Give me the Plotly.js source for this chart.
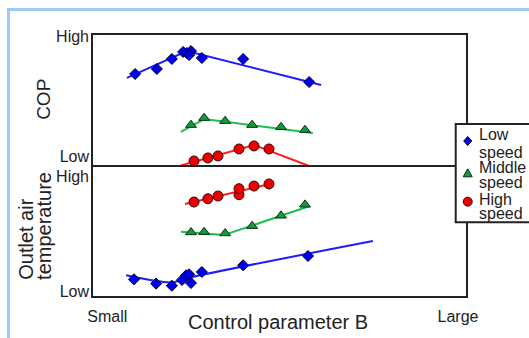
<!DOCTYPE html>
<html><head><meta charset="utf-8">
<script src="https://cdn.plot.ly/plotly-3.0.1.min.js"></script>
<style>
html,body{margin:0;padding:0;background:#fff;}
#chart{width:529px;height:338px;}
#frame{position:absolute;left:7px;top:8px;width:540px;height:350px;border-top:3px solid #9ccbfa;border-left:3px solid #9ccbfa;pointer-events:none;}
</style></head><body>
<div id="chart"></div><div id="frame"></div>
<script>
// Control parameter B (relative scale, 0 = Small edge, 100 = Large edge)
const xTickVals = [4.1, 97.6];
const xTickText = ['Small', 'Large'];
// Relative scales for COP and outlet air temperature
const copTickVals = [7.0, 98.5];
const tempTickVals = [4.6, 91.8];
const yTickText = ['Low', 'High'];

// --- COP (upper panel) ---
const lowCopX = [11.5, 17.3, 21.3, 24.3, 25.3, 26.4, 25.9, 29.3, 40.3, 57.9];
const lowCop  = [69.7, 73.5, 81.1, 86.4, 85.6, 87.1, 84.1, 81.8, 81.1, 63.6];
const lowCopFitX = [9.3, 25.3, 61.1];
const lowCopFit  = [66.7, 87.1, 61.4];

const midCopX = [26.4, 29.9, 35.5, 42.7, 50.4, 56.8];
const midCop  = [31.1, 36.4, 34.1, 31.1, 29.5, 27.3];
const midCopFitX = [23.7, 29.9, 58.9];
const midCopFit  = [25.8, 35.6, 25.0];

const highCopX = [27.2, 30.9, 33.6, 39.2, 43.2, 47.2];
const highCop  = [3.8, 6.1, 7.6, 12.9, 15.2, 12.9];
const highCopFitX = [23.7, 43.2, 57.9];
const highCopFit  = [0.4, 15.9, 0.0];

// --- Outlet air temperature (lower panel) ---
const lowTempX = [11.2, 17.1, 21.3, 24.0, 25.1, 25.9, 26.4, 29.3, 40.3, 57.6];
const lowTemp  = [13.5, 10.2, 8.6, 13.0, 16.6, 17.3, 10.7, 19.1, 24.2, 31.3];
const lowTempFitX = [9.1, 15.5, 21.3, 26.1, 74.9];
const lowTempFit  = [16.6, 13.0, 11.1, 14.9, 42.7];

const midTempX = [26.4, 29.9, 35.5, 42.7, 50.4, 56.8];
const midTemp  = [49.4, 49.6, 48.6, 54.2, 62.1, 70.5];
const midTempFitX = [23.7, 35.2, 58.1];
const midTempFit  = [49.8, 47.3, 69.5];

const highTempX = [27.2, 30.9, 33.6, 39.2, 39.2, 43.2, 47.2];
const highTemp  = [72.5, 75.0, 77.1, 78.1, 82.7, 84.7, 86.3];
const highTempFitX = [24.8, 48.2];
const highTempFit  = [71.0, 86.8];

const legendNames = [['Low', 'speed'], ['Middle', 'speed'], ['High', 'speed']];

const C = {
  low:  {line: '#1c1cff', fill: '#0000ee', edge: '#00002a', sym: 'diamond', size: 8.5},
  mid:  {line: '#1fbd50', fill: '#139a3f', edge: '#06300f', sym: 'triangle-up', size: 9.5},
  high: {line: '#ff1c1c', fill: '#ee0000', edge: '#3a0a0a', sym: 'circle', size: 10}
};

function fit(x, y, c, ya, shape) {
  return {x: x, y: y, yaxis: ya, mode: 'lines', type: 'scatter', hoverinfo: 'skip',
    line: {color: c.line, width: 2, shape: shape || 'linear', smoothing: 0.8}, cliponaxis: false};
}
function pts(x, y, c, ya) {
  return {x: x, y: y, yaxis: ya, mode: 'markers', type: 'scatter', cliponaxis: false,
    marker: {symbol: c.sym, size: c.size, color: c.fill, line: {color: c.edge, width: 1}}};
}

const data = [
  fit(lowCopFitX, lowCopFit, C.low, 'y2'),
  fit(midCopFitX, midCopFit, C.mid, 'y2'),
  fit(highCopFitX, highCopFit, C.high, 'y2'),
  fit(lowTempFitX, lowTempFit, C.low, 'y', 'spline'),
  fit(midTempFitX, midTempFit, C.mid, 'y'),
  fit(highTempFitX, highTempFit, C.high, 'y'),
  pts(lowCopX, lowCop, C.low, 'y2'),
  pts(midCopX, midCop, C.mid, 'y2'),
  pts(highCopX, highCop, C.high, 'y2'),
  pts(lowTempX, lowTemp, C.low, 'y'),
  pts(midTempX, midTemp, C.mid, 'y'),
  pts(highTempX, highTemp, C.high, 'y')
];

const split = 131 / 263;
const frameColor = '#222';
const axBase = {showgrid: false, zeroline: false, showline: false, ticks: '', fixedrange: true};

const shapes = [
  {type: 'rect', xref: 'paper', yref: 'paper', x0: 0, x1: 1, y0: 0, y1: 1, line: {color: frameColor, width: 2}, layer: 'above'},
  {type: 'line', xref: 'paper', yref: 'paper', x0: 0, x1: 1, y0: split, y1: split, line: {color: frameColor, width: 2}, layer: 'above'},
  // legend box
  {type: 'rect', xref: 'paper', yref: 'paper', x0: 0.9699, x1: 1.25, y0: 0.284, y1: 0.6578,
    fillcolor: '#fff', line: {color: frameColor, width: 2}, layer: 'above'},
  // legend keys
  {type: 'path', xref: 'paper', yref: 'paper', xsizemode: 'pixel', ysizemode: 'pixel',
    xanchor: 1.0019, yanchor: 0.5932, path: 'M0,4.5L4,0L0,-4.5L-4,0Z',
    fillcolor: C.low.fill, line: {color: C.low.edge, width: 1}, layer: 'above'},
  {type: 'path', xref: 'paper', yref: 'paper', xsizemode: 'pixel', ysizemode: 'pixel',
    xanchor: 1.0019, yanchor: 0.4703, path: 'M-4.5,-3.5L4.5,-3.5L0,4.5Z',
    fillcolor: C.mid.fill, line: {color: C.mid.edge, width: 1}, layer: 'above'},
  {type: 'circle', xref: 'paper', yref: 'paper', xsizemode: 'pixel', ysizemode: 'pixel',
    xanchor: 1.0019, yanchor: 0.3624, x0: -4.5, x1: 4.5, y0: -4.5, y1: 4.5,
    fillcolor: C.high.fill, line: {color: C.high.edge, width: 1}, layer: 'above'}
];

const legendY = [0.616, 0.5502, 0.4905, 0.4335, 0.3726, 0.3156];
const annotations = [];
legendNames.flat().forEach((t, i) => annotations.push({
  text: t, xref: 'paper', yref: 'paper', x: 1.0275, y: legendY[i], xanchor: 'left', yanchor: 'middle',
  showarrow: false, font: {size: 16}
}));
annotations.push(
  {text: 'COP', xref: 'paper', yref: 'paper', x: -0.1283, y: 0.7529, textangle: -90,
    xanchor: 'center', yanchor: 'middle', showarrow: false, font: {size: 19}},
  {text: 'Outlet air', xref: 'paper', yref: 'paper', x: -0.1779, y: 0.057, textangle: -90,
    xanchor: 'center', yanchor: 'bottom', showarrow: false, font: {size: 20}},
  {text: 'temperature', xref: 'paper', yref: 'paper', x: -0.1283, y: 0.057, textangle: -90,
    xanchor: 'center', yanchor: 'bottom', showarrow: false, font: {size: 20}},
  {text: 'Control parameter B', xref: 'paper', yref: 'paper', x: 0.4968, y: -0.0939,
    xanchor: 'center', yanchor: 'middle', showarrow: false, font: {size: 20}}
);

const layout = {
  width: 529, height: 338,
  margin: {l: 92, r: 62, t: 34, b: 41, pad: 0},
  paper_bgcolor: '#fff', plot_bgcolor: '#fff', showlegend: false,
  font: {family: 'Liberation Sans, Arial, sans-serif', size: 16, color: '#222'},
  xaxis: Object.assign({}, axBase, {range: [0, 100], tickvals: xTickVals, ticktext: xTickText, ticklabelstandoff: 8}),
  yaxis: Object.assign({}, axBase, {domain: [0, split], range: [0, 100], tickvals: tempTickVals, ticktext: yTickText, ticklabelstandoff: 2}),
  yaxis2: Object.assign({}, axBase, {domain: [split, 1], range: [0, 100], anchor: 'x', tickvals: copTickVals, ticktext: yTickText, ticklabelstandoff: 2}),
  shapes: shapes,
  annotations: annotations
};

Plotly.newPlot('chart', data, layout, {displayModeBar: false, staticPlot: true});
</script>
</body></html>
